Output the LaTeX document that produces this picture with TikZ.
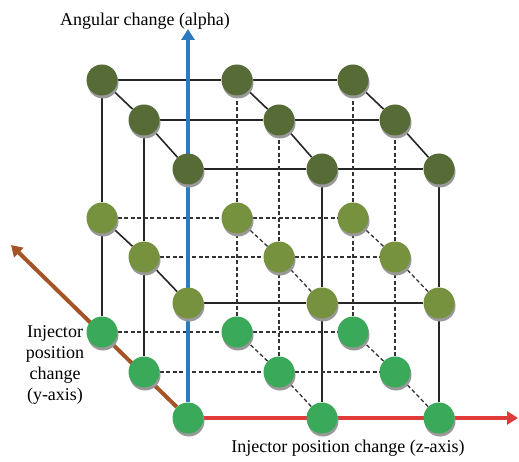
\documentclass[tikz,border=0pt]{standalone}
\usepackage{fontspec}
\setmainfont{Liberation Serif}
\usetikzlibrary{arrows.meta,shadows,backgrounds}

\definecolor{topgreen}{HTML}{566B36}
\definecolor{midgreen}{HTML}{77923F}
\definecolor{botgreen}{HTML}{3AAA5A}
\definecolor{axisblue}{HTML}{2C7BC0}
\definecolor{axisred}{HTML}{E03A3A}
\definecolor{axisbrown}{HTML}{A55428}

\begin{document}
\begin{tikzpicture}[x=1pt,y=-1pt,
        every node/.append style={font=\fontsize{18}{21}\selectfont},
        ball/.style={circle,fill=#1,minimum size=31pt,inner sep=0pt,
            drop shadow={shadow xshift=1pt,shadow yshift=-3pt,fill=black!40,opacity=1}},
        solidline/.style={line width=1.6pt,black!85},
        hiddenline/.style={line width=1.3pt,black!80,dash pattern=on 4pt off 2.5pt},
        axisline/.style={line width=4pt,-{Triangle[width=13pt,length=11pt]}}
    ]
        \useasboundingbox (0,0) rectangle (519,462);

        \foreach \k/\col/\ya/\yb/\yc in {0/botgreen/418/372/332,1/midgreen/303/257/218,2/topgreen/169/120/80}{
            \foreach \i/\xa/\xb/\xc in {0/188/144/102,1/322/279/237,2/439/395/353}{
                \node[ball=\col] (n\i0\k) at (\xa,\ya) {};
                \node[ball=\col] (n\i1\k) at (\xb,\yb) {};
                \node[ball=\col] (n\i2\k) at (\xc,\yc) {};
            }
        }

        \coordinate (atip) at (188,29);
        \coordinate (ztip) at (518,418);
        \coordinate (ytip) at (11,245);

        \begin{pgfonlayer}{background}
            \foreach \j in {0,1,2} \draw[solidline] (n0\j2) -- (n1\j2) -- (n2\j2);
            \foreach \i in {0,1,2} \draw[solidline] (n\i02) -- (n\i12) -- (n\i22);
            \foreach \j in {1,2} \draw[solidline] (n0\j0) -- (n0\j1) -- (n0\j2);
            \foreach \i in {1,2} \draw[solidline] (n\i00) -- (n\i01) -- (n\i02);
            \draw[solidline] (n001) -- (n101) -- (n201);
            \draw[solidline] (n001) -- (n011) -- (n021);

            \foreach \i in {1,2} \foreach \j in {1,2} \draw[hiddenline] (n\i\j0) -- (n\i\j1) -- (n\i\j2);
            \foreach \k in {0,1} \foreach \j in {1,2} \draw[hiddenline] (n0\j\k) -- (n1\j\k) -- (n2\j\k);
            \foreach \k in {0,1} \foreach \i in {1,2} \draw[hiddenline] (n\i0\k) -- (n\i1\k) -- (n\i2\k);

            \draw[axisline,axisbrown] (n000) -- (ytip);
            \draw[axisline,axisred] (n000) -- (ztip);
            \draw[axisline,axisblue] (n000) -- (atip);
        \end{pgfonlayer}

        \node[anchor=base] (alphalbl) at (145,26) {Angular change (alpha)};
        \node[anchor=base] (zlbl) at (348,452) {Injector position change (z-axis)};
        \node[align=center,inner sep=0pt] (ylbl) at (55,365) {Injector\\position\\change\\(y-axis)};
    \end{tikzpicture}
\end{document}
